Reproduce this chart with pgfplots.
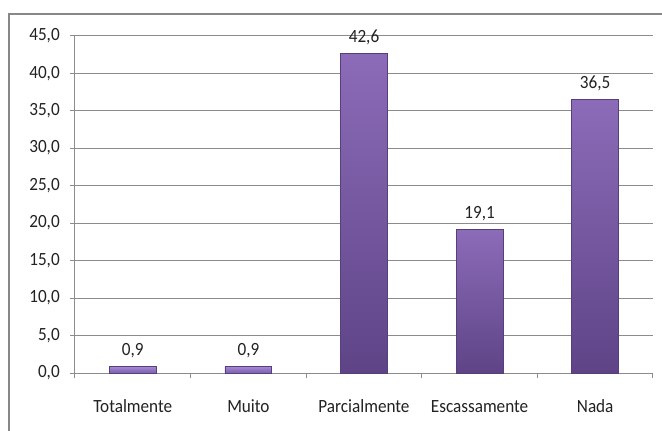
\documentclass[border=0pt]{standalone}
\usepackage{fontspec}
\setmainfont{Carlito}[FakeStretch=0.92]
\usepackage{pgfplots}
\pgfplotsset{compat=1.18}
\definecolor{gridgray}{HTML}{8C8C8C}
\definecolor{framegray}{HTML}{878787}
\definecolor{bartop}{HTML}{8C6BB8}
\definecolor{barbot}{HTML}{5E4487}
\definecolor{baredge}{HTML}{56407A}
\definecolor{smalltop}{HTML}{A58AD4}
\definecolor{smallbot}{HTML}{7D5EAE}
\definecolor{txt}{HTML}{222222}

\begin{document}
\begin{tikzpicture}
\clip (-56.25pt,-42.75pt) rectangle (440.25pt,279.75pt);
\draw[framegray, line width=1pt] (-49.5pt,-80pt) rectangle (480pt,269.25pt);
\begin{axis}[
    width=433.5pt, height=253pt, scale only axis,
    xmin=-0.5, xmax=4.5, ymin=0, ymax=45,
    ytick={0,5,...,45},
    ymajorgrids, grid style={gridgray, line width=0.75pt},
    axis x line*=bottom, axis y line*=left,
    axis line style={gridgray, line width=0.75pt},
    tick align=outside, major tick length=3.75pt,
    ytick style={gridgray, line width=0.75pt},
    xtick={0,...,4},
    xticklabels={Totalmente\hspace{4.5pt}, Muito\hspace{27pt}, Parcialmente, Escassamente\hspace{12pt}, Nada\hspace{15pt}},
    xtick style={draw=none},
    extra x ticks={-0.5,0.5,...,4.5},
    extra x tick labels={},
    extra x tick style={xtick style={draw=gridgray, line width=0.75pt}},
    tick label style={font=\fontsize{14}{16}\selectfont, text=txt},
    xticklabel style={anchor=base, yshift=-25.5pt},
    yticklabel style={anchor=east, inner sep=0pt, xshift=-7.5pt,
        /pgf/number format/.cd, fixed, fixed zerofill, precision=1, use comma},
    /pgf/number format/assume math mode=true,
    nodes near coords,
    nodes near coords style={anchor=base, yshift=8.25pt, inner sep=0pt,
        font=\fontsize{14}{16}\selectfont, text=txt,
        /pgf/number format/.cd, fixed, fixed zerofill, precision=1, use comma},
]
\addplot[ybar, bar width=0.406, bar shift=0pt, draw=baredge, line width=0.6pt, top color=smalltop, bottom color=smallbot] coordinates {(0,0.9)};
\addplot[ybar, bar width=0.406, bar shift=0pt, draw=baredge, line width=0.6pt, top color=smalltop, bottom color=smallbot] coordinates {(1,0.9)};
\addplot[ybar, bar width=0.406, bar shift=0pt, draw=baredge, line width=0.6pt, top color=bartop, bottom color=barbot] coordinates {(2,42.6)};
\addplot[ybar, bar width=0.406, bar shift=0pt, draw=baredge, line width=0.6pt, top color=bartop, bottom color=barbot] coordinates {(3,19.1)};
\addplot[ybar, bar width=0.406, bar shift=0pt, draw=baredge, line width=0.6pt, top color=bartop, bottom color=barbot] coordinates {(4,36.5)};
\end{axis}
\end{tikzpicture}
\end{document}
